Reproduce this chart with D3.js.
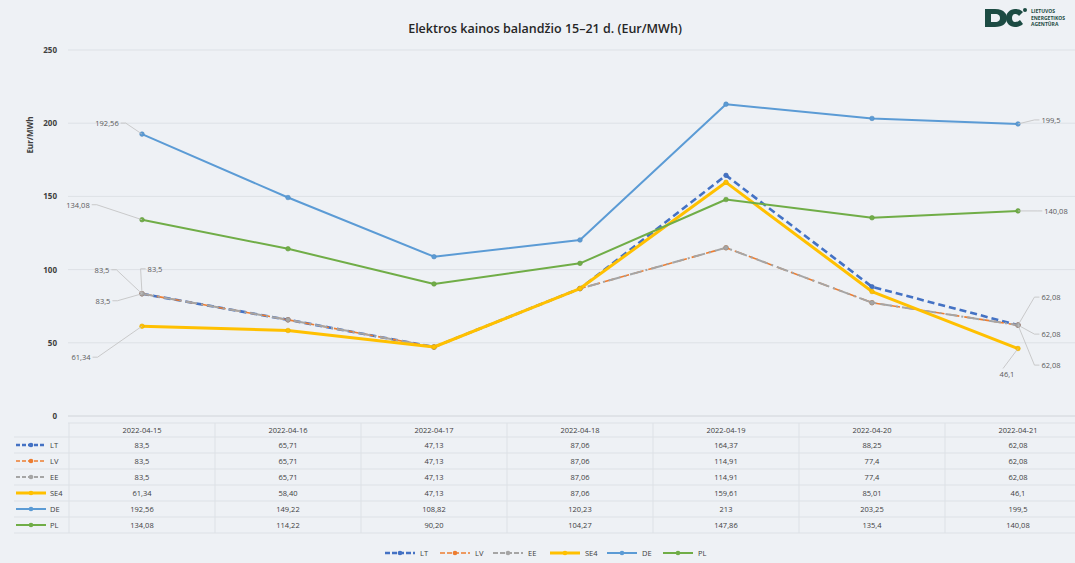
<!DOCTYPE html>
<html>
<head>
<meta charset="utf-8">
<script src="https://cdn.jsdelivr.net/npm/d3@7"></script>
<style>
  body { margin: 0; background: #eef1f5; }
  svg { display: block; font-family: "Open Sans", "Liberation Sans", sans-serif; }
</style>
</head>
<body>
<div id="chart"></div>
<script>
// data (as shown in the table, Lithuanian decimal comma)
var categories = ["2022-04-15", "2022-04-16", "2022-04-17", "2022-04-18", "2022-04-19", "2022-04-20", "2022-04-21"];
var seriesNames = ["LT", "LV", "EE", "SE4", "DE", "PL"];
var ltValues = ["83,5", "65,71", "47,13", "87,06", "164,37", "88,25", "62,08"];
var lvValues = ["83,5", "65,71", "47,13", "87,06", "114,91", "77,4", "62,08"];
var eeValues = ["83,5", "65,71", "47,13", "87,06", "114,91", "77,4", "62,08"];
var se4Values = ["61,34", "58,40", "47,13", "87,06", "159,61", "85,01", "46,1"];
var deValues = ["192,56", "149,22", "108,82", "120,23", "213", "203,25", "199,5"];
var plValues = ["134,08", "114,22", "90,20", "104,27", "147,86", "135,4", "140,08"];
var yTicks = [0, 50, 100, 150, 200, 250];
var titleText = "Elektros kainos balandžio 15–21 d. (Eur/MWh)";
var yTitle = "Eur/MWh";

var svgWidth = 1075;
var svgHeight = 563;

var svg = d3.select("#chart")
  .append("svg")
  .attr("width", svgWidth)
  .attr("height", svgHeight);

svg.append("rect")
  .attr("width", svgWidth)
  .attr("height", svgHeight)
  .attr("fill", "#eef1f5");

var num = s => +s.replace(",", ".");

var series = [
  {name: "LT", raw: ltValues, color: "#4472c4", width: 2.6, dash: "7,4", marker: "#4472c4"},
  {name: "LV", raw: lvValues, color: "#ed7d31", width: 1.6, dash: "10,5", marker: "#ed7d31"},
  {name: "EE", raw: eeValues, color: "#a5a5a5", width: 2, dash: "12,4,2,4", marker: "#a5a5a5"},
  {name: "SE4", raw: se4Values, color: "#ffc000", width: 3, dash: null, marker: "#ffc000"},
  {name: "DE", raw: deValues, color: "#5b9bd5", width: 2, dash: null, marker: "#5b9bd5"},
  {name: "PL", raw: plValues, color: "#70ad47", width: 2, dash: null, marker: "#70ad47"}
];
series.forEach(s => { s.values = s.raw.map(num); });

// scales
var xScale = d3.scaleBand()
  .domain(categories)
  .range([69, 1091])
  .padding(0);

var yScale = d3.scaleLinear()
  .domain([0, 250])
  .range([416, 50]);

var xc = c => xScale(c) + xScale.bandwidth() / 2;

// title
svg.append("text")
  .attr("x", 545)
  .attr("y", 33)
  .attr("text-anchor", "middle")
  .attr("font-size", "12.5px")
  .attr("font-weight", 600)
  .attr("fill", "#262626")
  .text(titleText);

// logo
var logo = svg.append("g").attr("transform", "translate(983,6)");
logo.append("path")
  .attr("d", "M2,3 L12,3 C22,3 24,9 24,12 C24,17 20,21 12,21 L2,21 Z M8,8 L8,16 L12,16 C16,16 17,14 17,12 C17,10 16,8 12,8 Z")
  .attr("fill", "#1c4b43")
  .attr("fill-rule", "evenodd");
logo.append("path")
  .attr("d", "M40,6 C37,3 34,3 32,3 C27,3 23,7 23,12 C23,17 27,21 32,21 C35,21 38,20 40,18 L37,14 C36,15 34,16 32,16 C30,16 29,14 29,12 C29,10 30,8 32,8 C34,8 35,9 36,10 Z")
  .attr("fill", "#1c4b43");
logo.append("circle").attr("cx", 42).attr("cy", 4).attr("r", 2).attr("fill", "#1c4b43");
["LIETUVOS", "ENERGETIKOS", "AGENTŪRA"].forEach((t, i) => {
  logo.append("text")
    .attr("x", 48)
    .attr("y", 7 + i * 6.5)
    .attr("font-size", "5px")
    .attr("font-weight", 700)
    .attr("fill", "#1c4b43")
    .text(t);
});

// gridlines + y axis
var leftAxis = d3.axisLeft(yScale).tickValues(yTicks).tickSize(0).tickPadding(0);
var yAxisG = svg.append("g")
  .attr("transform", "translate(57,0)")
  .call(leftAxis);
yAxisG.select(".domain").remove();
yAxisG.selectAll("text")
  .attr("font-size", "8px")
  .attr("font-weight", 700)
  .attr("fill", "#404040")
  .attr("font-family", "Open Sans, sans-serif");

svg.append("g")
  .selectAll("line")
  .data(yTicks)
  .enter()
  .append("line")
  .attr("x1", 68)
  .attr("x2", svgWidth)
  .attr("y1", d => yScale(d))
  .attr("y2", d => yScale(d))
  .attr("stroke", d => d === 0 ? "#d0d4d9" : "#dde1e6")
  .attr("stroke-width", 1);

svg.append("text")
  .attr("transform", "translate(33,135) rotate(-90)")
  .attr("text-anchor", "middle")
  .attr("font-size", "8px")
  .attr("font-weight", 700)
  .attr("fill", "#404040")
  .text(yTitle);

// lines
var line = d3.line()
  .x((d, i) => xc(categories[i]))
  .y(d => yScale(d));

series.forEach(s => {
  svg.append("path")
    .datum(s.values)
    .attr("fill", "none")
    .attr("stroke", s.color)
    .attr("stroke-width", s.width)
    .attr("stroke-dasharray", s.dash)
    .attr("stroke-linejoin", "round")
    .attr("d", line);

  svg.append("g")
    .selectAll("circle")
    .data(s.values)
    .enter()
    .append("circle")
    .attr("cx", (d, i) => xc(categories[i]))
    .attr("cy", d => yScale(d))
    .attr("r", 2.3)
    .attr("fill", s.marker)
    .attr("stroke", d3.color(s.color).darker(0.3))
    .attr("stroke-width", 0.6);
});

// data labels with leader lines (offsets from the point, px)
var labelSpots = [
  {s: "DE", i: 0, dx: -35, dy: -11},
  {s: "PL", i: 0, dx: -64, dy: -15},
  {s: "LT", i: 0, dx: -40, dy: -24},
  {s: "LV", i: 0, dx: 13, dy: -25},
  {s: "EE", i: 0, dx: -39, dy: 7},
  {s: "SE4", i: 0, dx: -61, dy: 31},
  {s: "DE", i: 6, dx: 33, dy: -4},
  {s: "PL", i: 6, dx: 38, dy: 0},
  {s: "LT", i: 6, dx: 33, dy: -28},
  {s: "LV", i: 6, dx: 33, dy: 9},
  {s: "EE", i: 6, dx: 33, dy: 40},
  {s: "SE4", i: 6, dx: -11, dy: 25}
];

var labelG = svg.append("g");
labelSpots.forEach(l => {
  var s = series.find(d => d.name === l.s);
  var px = xc(categories[l.i]);
  var py = yScale(s.values[l.i]);
  var tx = px + l.dx;
  var ty = py + l.dy;
  var txt = labelG.append("text")
    .attr("x", tx)
    .attr("y", ty + 3)
    .attr("text-anchor", "middle")
    .attr("font-size", "7.5px")
    .attr("fill", "#595959")
    .text(s.raw[l.i]);
  var w = txt.node().getComputedTextLength() / 2 + 2;
  var ex, ey;
  if (Math.abs(l.dx) > w + 2) {
    ex = l.dx < 0 ? tx + w : tx - w;
    ey = ty;
  } else {
    ex = tx - 4;
    ey = l.dy < 0 ? ty + 4 : ty - 5;
  }
  var mid = l.dx < 0 ? ex + 5 : ex - 5;
  labelG.insert("polyline", "text")
    .attr("points", Math.abs(l.dx) > w + 2
      ? `${ex},${ey} ${mid},${ey} ${px},${py}`
      : `${ex},${ey} ${px},${py}`)
    .attr("fill", "none")
    .attr("stroke", "#bfbfbf")
    .attr("stroke-width", 0.8);
});

// data table
var tableTop = 423;
var headH = 14;
var rowH = 16;
var tableBottom = tableTop + headH + rowH * series.length;
var tableG = svg.append("g");

var hLines = [tableTop, tableTop + headH].concat(series.map((d, i) => tableTop + headH + rowH * (i + 1)));
tableG.selectAll("line.h")
  .data(hLines)
  .enter()
  .append("line")
  .attr("x1", (d, i) => i === 0 ? 68 : 14)
  .attr("x2", svgWidth)
  .attr("y1", d => d)
  .attr("y2", d => d)
  .attr("stroke", "#dde1e6");

tableG.selectAll("line.v")
  .data(categories.concat(["end"]))
  .enter()
  .append("line")
  .attr("x1", (d, i) => 69 + xScale.bandwidth() * i)
  .attr("x2", (d, i) => 69 + xScale.bandwidth() * i)
  .attr("y1", tableTop)
  .attr("y2", tableBottom)
  .attr("stroke", "#dde1e6");

tableG.selectAll("text.date")
  .data(categories)
  .enter()
  .append("text")
  .attr("x", d => xc(d))
  .attr("y", tableTop + headH / 2 + 3)
  .attr("text-anchor", "middle")
  .attr("font-size", "7.5px")
  .attr("fill", "#404040")
  .text(d => d);

series.forEach((s, r) => {
  var cy = tableTop + headH + rowH * r + rowH / 2;
  tableG.selectAll(null)
    .data(s.raw)
    .enter()
    .append("text")
    .attr("x", (d, i) => xc(categories[i]))
    .attr("y", cy + 3)
    .attr("text-anchor", "middle")
    .attr("font-size", "7.5px")
    .attr("fill", "#404040")
    .text(d => d);

  // legend key in table
  tableG.append("line")
    .attr("x1", 16).attr("x2", 46)
    .attr("y1", cy).attr("y2", cy)
    .attr("stroke", s.color)
    .attr("stroke-width", s.width)
    .attr("stroke-dasharray", s.dash ? "4,2" : null);
  tableG.append("circle")
    .attr("cx", 31).attr("cy", cy).attr("r", 2.3)
    .attr("fill", s.marker);
  tableG.append("text")
    .attr("x", 50)
    .attr("y", cy + 3)
    .attr("font-size", "7.5px")
    .attr("fill", "#404040")
    .text(s.name);
});

// bottom legend
var legendX = [385, 440, 493, 550, 607, 663];
var legend = svg.append("g").attr("transform", "translate(0,553)");
series.forEach((s, i) => {
  var g = legend.append("g").attr("transform", `translate(${legendX[i]},0)`);
  g.append("line")
    .attr("x1", 0).attr("x2", 30)
    .attr("stroke", s.color)
    .attr("stroke-width", s.width)
    .attr("stroke-dasharray", s.dash ? "5,2" : null);
  g.append("circle").attr("cx", 15).attr("r", 2.3).attr("fill", s.marker);
  g.append("text")
    .attr("x", 35)
    .attr("y", 3)
    .attr("font-size", "7.5px")
    .attr("fill", "#404040")
    .text(s.name);
});
</script>
</body>
</html>
